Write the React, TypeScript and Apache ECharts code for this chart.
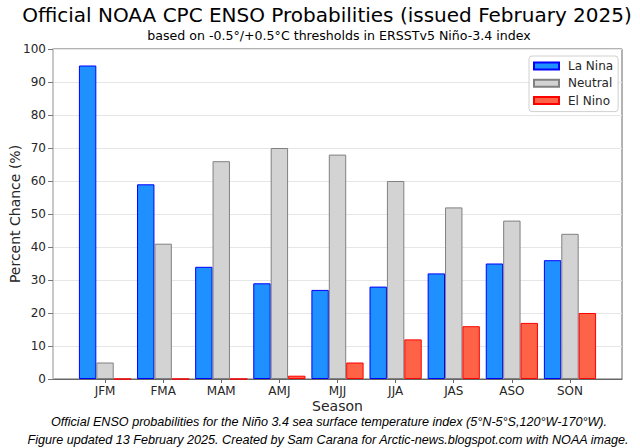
import React, { useEffect, useRef } from "react";
import * as echarts from "echarts";

const seasons = ["JFM", "FMA", "MAM", "AMJ", "MJJ", "JJA", "JAS", "ASO", "SON"];
const laNina = [95, 59, 34, 29, 27, 28, 32, 35, 36];
const neutral = [5, 41, 66, 70, 68, 60, 52, 48, 44];
const elNino = [0, 0, 0, 1, 5, 12, 16, 17, 20];

const FONT = "DejaVu Sans";

export default function App() {
  const ref = useRef<HTMLDivElement>(null);
  useEffect(() => {
    if (!ref.current) return;
    const chart = echarts.init(ref.current, null, { renderer: "svg" });
    const idx = seasons.map((_, i) => i);
    const mk = (name: string, vals: number[], color: string, border: string) => ({
      name,
      type: "bar",
      data: vals.map((v, i) => [i, v]),
      barWidth: 17.4,
      barGap: "0%",
      itemStyle: { color, borderColor: border, borderWidth: 1 },
    });
    chart.setOption({
      animation: false,
      backgroundColor: "#ffffff",
      textStyle: { fontFamily: FONT },
      grid: {
        left: 53,
        right: 18,
        top: 49,
        bottom: 69,
        show: true,
        borderColor: "#666666",
        borderWidth: 1,
        containLabel: false,
        outerBoundsMode: "none",
      },
      xAxis: {
        type: "value",
        min: -0.895,
        max: 8.895,
        splitLine: { show: false },
        axisLine: { show: true, onZero: false, lineStyle: { color: "#666666", width: 1 } },
        axisTick: { show: true, customValues: idx, length: 4, lineStyle: { color: "#666666" } },
        axisLabel: {
          customValues: idx,
          formatter: (v: number) => seasons[Math.round(v)] ?? "",
          fontSize: 12,
          color: "#262626",
          margin: 6,
          fontFamily: FONT,
        },
        name: "Season",
        nameLocation: "middle",
        nameGap: 20,
        nameMoveOverlap: false,
        nameTextStyle: { fontSize: 14, color: "#262626", fontFamily: FONT },
      },
      yAxis: {
        type: "value",
        min: 0,
        max: 100,
        interval: 10,
        splitLine: { show: true, lineStyle: { color: "#e6e6e6", width: 1 } },
        axisLine: { show: true, onZero: false, lineStyle: { color: "#c8c8c8", width: 2 } },
        axisTick: { show: true, length: 5, lineStyle: { color: "#777777" } },
        axisLabel: { fontSize: 12, color: "#262626", margin: 7, fontFamily: FONT },
        name: "Percent Chance (%)",
        nameLocation: "middle",
        nameGap: 31,
        nameMoveOverlap: false,
        nameTextStyle: { fontSize: 14, color: "#262626", fontFamily: FONT },
      },
      legend: {
        orient: "vertical",
        left: 529,
        top: 56,
        itemWidth: 25,
        itemHeight: 7,
        itemGap: 3.3,
        icon: "rect",
        backgroundColor: "rgba(255,255,255,0.9)",
        borderColor: "#d0d0d0",
        borderWidth: 1,
        borderRadius: 3,
        padding: [3, 5, 4, 4],
        textStyle: {
          fontSize: 12,
          lineHeight: 14,
          color: "#262626",
          fontFamily: FONT,
          padding: [0, 0, 0, 4],
        },
        data: ["La Nina", "Neutral", "El Nino"],
      },
      graphic: [
        {
          type: "text",
          x: 327,
          y: 15,
          style: {
            text: "Official NOAA CPC ENSO Probabilities (issued February 2025)",
            fontSize: 20,
            fontFamily: FONT,
            fill: "#000000",
            textAlign: "center",
            textVerticalAlign: "middle",
          },
        },
        {
          type: "text",
          x: 339,
          y: 35,
          style: {
            text: "based on -0.5°/+0.5°C thresholds in ERSSTv5 Niño-3.4 index",
            fontSize: 12.6,
            fontFamily: FONT,
            fill: "#000000",
            textAlign: "center",
            textVerticalAlign: "middle",
          },
        },
        {
          type: "text",
          x: 329,
          y: 422,
          style: {
            text: "Official ENSO probabilities for the Niño 3.4 sea surface temperature index (5°N-5°S,120°W-170°W).",
            fontSize: 12.6,
            fontStyle: "italic",
            fontFamily: "Liberation Sans",
            fill: "#000000",
            textAlign: "center",
            textVerticalAlign: "middle",
          },
        },
        {
          type: "text",
          x: 328,
          y: 440,
          style: {
            text: "Figure updated 13 February 2025. Created by Sam Carana for Arctic-news.blogspot.com with NOAA image.",
            fontSize: 12.6,
            fontStyle: "italic",
            fontFamily: "Liberation Sans",
            fill: "#000000",
            textAlign: "center",
            textVerticalAlign: "middle",
          },
        },
      ],
      series: [
        mk("La Nina", laNina, "#1E90FF", "#0000FF"),
        mk("Neutral", neutral, "#D3D3D3", "#808080"),
        mk("El Nino", elNino, "#FF6347", "#FF0000"),
      ],
    });
    return () => chart.dispose();
  }, []);
  return (
    <div
      ref={ref}
      style={{ position: "fixed", left: 0, top: 0, width: 640, height: 448 }}
    />
  );
}
